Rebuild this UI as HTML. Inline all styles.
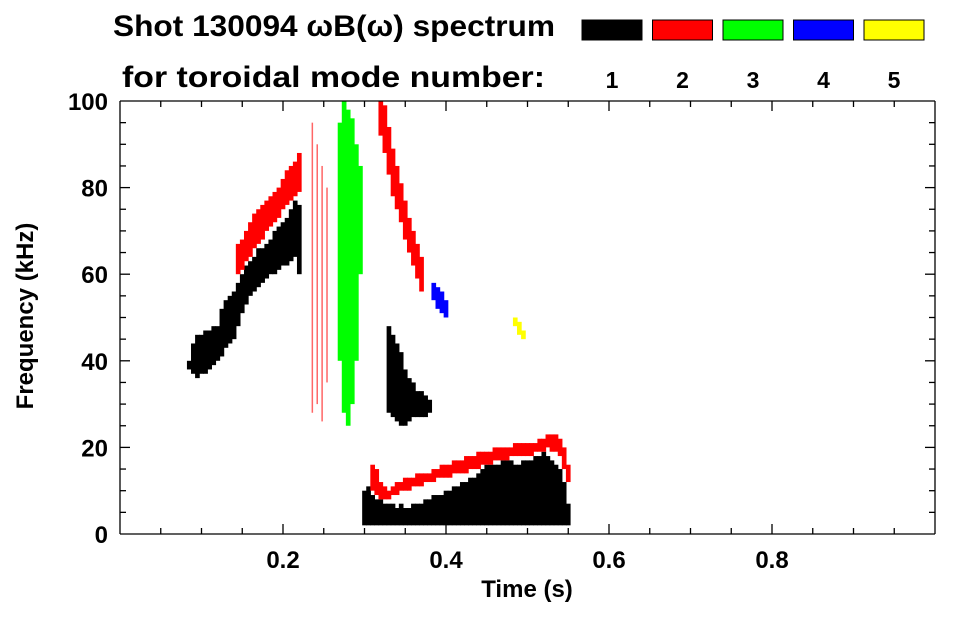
<!DOCTYPE html>
<html><head><meta charset="utf-8"><style>
body{margin:0;background:#fff;}
svg text{font-family:"Liberation Sans",sans-serif;font-weight:bold;fill:#000;}
</style></head><body>
<svg id="chart" width="963" height="615" viewBox="0 0 963 615">
<g id="marks"></g>
<g id="axes"></g>
<text x="113" y="36" font-size="30" textLength="442" lengthAdjust="spacingAndGlyphs">Shot 130094 ωB(ω) spectrum</text>
<text x="122" y="87" font-size="30" textLength="423" lengthAdjust="spacingAndGlyphs">for toroidal mode number:</text>
<g id="legend"></g>
<text x="527" y="597" font-size="24" text-anchor="middle">Time (s)</text>
<text transform="translate(33,316) rotate(-90)" font-size="24" text-anchor="middle">Frequency (kHz)</text>
</svg>
<script>
const modeColors=["#000000","#ff0000","#00ff00","#0000ff","#ffff00"];
const modeLabels=["1","2","3","4","5"];
const xTicks=[0.2,0.4,0.6,0.8];
const yTicks=[0,20,40,60,80,100];
const b1Mode=0;
const b1T=[0.085,0.09,0.095,0.1,0.105,0.11,0.115,0.12,0.125,0.13,0.135,0.14];
const b1Lo=[38,37,36,37,37,38,39,40,41,43,44,45];
const b1Hi=[40,44,46,46,47,47,48,48,52,54,55,56];
const b2Mode=0;
const b2T=[0.145,0.15,0.155,0.16,0.165,0.17,0.175,0.18,0.185,0.19,0.195,0.2,0.205,0.21,0.215,0.22];
const b2Lo=[48,51,53,55,56,57,58,59,60,60,61,62,62,63,64,60];
const b2Hi=[58,60,62,63,64,66,66,67,68,70,71,72,73,75,77,76];
const b3Mode=0;
const b3T=[0.33,0.335,0.34,0.345,0.35,0.355,0.36,0.365,0.37,0.375,0.38];
const b3Lo=[28,27,26,25,25,26,27,27,27,27,28];
const b3Hi=[48,46,44,42,38,36,35,33,33,32,31];
const b4Mode=0;
const b4T=[0.30,0.305,0.31,0.315,0.32,0.325,0.33,0.335,0.34,0.345,0.35,0.355,0.36,0.365,0.37,0.375,0.38,0.385,0.39,0.395,0.40,0.405,0.41,0.415,0.42,0.425,0.43,0.435,0.44,0.445,0.45,0.455,0.46,0.465,0.47,0.475,0.48,0.485,0.49,0.495,0.50,0.505,0.51,0.515,0.52,0.525,0.53,0.535,0.54,0.545,0.55];
const b4Lo=[2,2,2,2,2,2,2,2,2,2,2,2,2,2,2,2,2,2,2,2,2,2,2,2,2,2,2,2,2,2,2,2,2,2,2,2,2,2,2,2,2,2,2,2,2,2,2,2,2,2,2];
const b4Hi=[10,11,9,8,8,7,7,7,6,7,6,6,7,7,7,8,8,9,9,9,10,10,11,11,12,12,13,13,14,15,16,16,16,16,17,17,17,16,16,17,17,17,18,18,19,18,17,16,15,12,7];
const r1Mode=1;
const r1T=[0.145,0.15,0.155,0.16,0.165,0.17,0.175,0.18,0.185,0.19,0.195,0.2,0.205,0.21,0.215,0.22];
const r1Lo=[60,61,63,64,66,67,68,70,71,72,73,75,76,77,78,79];
const r1Hi=[67,68,70,72,74,75,76,77,78,79,80,82,84,85,86,88];
const r2Mode=1;
const r2T=[0.32,0.325,0.33,0.335,0.34,0.345,0.35,0.355,0.36,0.365,0.37];
const r2Lo=[92,88,83,78,75,72,68,65,62,59,56];
const r2Hi=[100,99,94,89,85,81,77,73,70,67,64];
const r3Mode=1;
const r3T=[0.31,0.315,0.32,0.325,0.33,0.335,0.34,0.345,0.35,0.355,0.36,0.365,0.37,0.375,0.38,0.385,0.39,0.395,0.40,0.405,0.41,0.415,0.42,0.425,0.43,0.435,0.44,0.445,0.45,0.455,0.46,0.465,0.47,0.475,0.48,0.485,0.49,0.495,0.50,0.505,0.51,0.515,0.52,0.525,0.53,0.535,0.54,0.545,0.55];
const r3Lo=[10,9,8,8,8,9,9,10,10,10,11,11,11,12,12,12,13,13,13,13,14,14,14,14,15,15,15,16,16,16,17,17,17,17,18,18,18,18,18,18,19,19,19,20,19,19,18,15,12];
const r3Hi=[16,15,12,11,10,11,12,12,13,13,13,14,14,14,14,15,15,16,16,16,17,17,17,18,18,18,19,19,19,19,20,20,20,20,20,21,21,21,21,21,21,22,22,23,23,23,22,20,16];
const r4Mode=1;
const r4T=[0.236,0.242,0.248,0.254];
const r4Lo=[28,30,26,35];
const r4Hi=[95,90,85,80];
const g1Mode=2;
const g1T=[0.27,0.275,0.28,0.285,0.29,0.295];
const g1Lo=[40,28,25,30,40,60];
const g1Hi=[95,100,98,96,90,85];
const n1Mode=3;
const n1T=[0.385,0.39,0.395,0.40];
const n1Lo=[54,52,51,50];
const n1Hi=[58,57,56,54];
const y1Mode=4;
const y1T=[0.485,0.49,0.495];
const y1Lo=[48,46,45];
const y1Hi=[50,49,47];

const X0=120,X1=935,Y0=534,Y1=101;
const xs=t=>X0+t*(X1-X0);
const ys=f=>Y0-f/100*(Y0-Y1);
const NS="http://www.w3.org/2000/svg";
const marks=document.getElementById('marks');
function blob(mode,T,Lo,Hi,name,wFix,op){
  const w=wFix||((T.length>1?Math.abs(xs(T[1])-xs(T[0])):4)+0.6);
  for(let i=0;i<T.length;i++){
    const r=document.createElementNS(NS,'rect');
    r.setAttribute('x',xs(T[i])-w/2);
    r.setAttribute('y',ys(Hi[i]));
    r.setAttribute('width',w);
    r.setAttribute('height',Math.max(1,ys(Lo[i])-ys(Hi[i])));
    r.setAttribute('fill',modeColors[mode]);
    if(op) r.setAttribute('opacity',op);
    
    
    marks.appendChild(r);
  }
}
blob(b1Mode,b1T,b1Lo,b1Hi,'mode1-blob-early');
blob(b2Mode,b2T,b2Lo,b2Hi,'mode1-rising-band');
blob(b3Mode,b3T,b3Lo,b3Hi,'mode1-mid-blob');
blob(b4Mode,b4T,b4Lo,b4Hi,'mode1-low-band');
blob(r1Mode,r1T,r1Lo,r1Hi,'mode2-rising-band');
blob(r2Mode,r2T,r2Lo,r2Hi,'mode2-falling-band');
blob(r3Mode,r3T,r3Lo,r3Hi,'mode2-low-band');
blob(r4Mode,r4T,r4Lo,r4Hi,'mode2-vertical-lines',1.5,0.6);
blob(g1Mode,g1T,g1Lo,g1Hi,'mode3-blob');
blob(n1Mode,n1T,n1Lo,n1Hi,'mode4-blob');
blob(y1Mode,y1T,y1Lo,y1Hi,'mode5-blob');

const axes=document.getElementById('axes');
function line(x1,y1,x2,y2,name){
  const l=document.createElementNS(NS,'line');
  l.setAttribute('x1',x1);l.setAttribute('y1',y1);l.setAttribute('x2',x2);l.setAttribute('y2',y2);
  l.setAttribute('stroke','#000');l.setAttribute('stroke-width','1.3');
  
  
  axes.appendChild(l);
}
line(X0,Y0,X1,Y0,'x-axis');line(X0,Y1,X1,Y1,'top-axis');
line(X0,Y1,X0,Y0,'y-axis');line(X1,Y1,X1,Y0,'right-axis');
for(let k=1;k<20;k++){const t=k*0.05,major=(k%4===0);const L=major?10:6;
  line(xs(t),Y0,xs(t),Y0-L,'x-tick');line(xs(t),Y1,xs(t),Y1+L,'x-tick-top');}
for(let k=1;k<20;k++){const f=k*5,major=(k%4===0);const L=major?10:6;
  line(X0,ys(f),X0+L,ys(f),'y-tick');line(X1,ys(f),X1-L,ys(f),'y-tick-right');}
xTicks.forEach(v=>{const t=document.createElementNS(NS,'text');
  t.setAttribute('x',xs(v));t.setAttribute('y',Y0+34);t.setAttribute('font-size','24');t.setAttribute('text-anchor','middle');
  t.textContent=v.toFixed(1);
  
  
  axes.appendChild(t);});
yTicks.forEach(v=>{const t=document.createElementNS(NS,'text');
  t.setAttribute('x',X0-12);t.setAttribute('y',ys(v)+9);t.setAttribute('font-size','24');t.setAttribute('text-anchor','end');
  t.textContent=v;
  
  
  axes.appendChild(t);});
const legend=document.getElementById('legend');
modeColors.forEach((c,i)=>{const x=582+i*70.5;
  const r=document.createElementNS(NS,'rect');
  r.setAttribute('x',x);r.setAttribute('y',20);r.setAttribute('width',60);r.setAttribute('height',20);
  r.setAttribute('fill',c);r.setAttribute('stroke','#000');r.setAttribute('stroke-width','1');
  
  
  legend.appendChild(r);
  const t=document.createElementNS(NS,'text');
  t.setAttribute('x',x+30);t.setAttribute('y',88);t.setAttribute('font-size','23');t.setAttribute('text-anchor','middle');
  t.textContent=modeLabels[i];
  
  
  legend.appendChild(t);});
</script>
</body></html>
